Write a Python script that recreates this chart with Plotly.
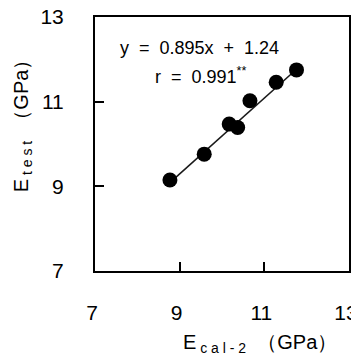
import plotly.graph_objects as go

# Data
e_cal2 = [8.77, 9.58, 10.17, 10.37, 10.66, 11.28, 11.76]
e_test = [9.15, 9.76, 10.47, 10.39, 11.02, 11.46, 11.75]
slope = 0.895
intercept = 1.24
r_value = 0.991
tick_vals = [7, 9, 11, 13]
tick_text = ["7", "9", "11", "13"]

FONT = "Liberation Sans, Arial, sans-serif"

x_line = [min(e_cal2), max(e_cal2)]
y_line = [slope * v + intercept for v in x_line]

fig = go.Figure()
fig.add_trace(go.Scatter(x=x_line, y=y_line, mode="lines",
                         line=dict(color="#1a1a1a", width=1.6),
                         hoverinfo="skip", showlegend=False))
fig.add_trace(go.Scatter(x=e_cal2, y=e_test, mode="markers",
                         marker=dict(color="black", size=15),
                         showlegend=False))

axis_common = dict(
    range=[7, 13], tickvals=tick_vals, ticktext=tick_text,
    showgrid=False, zeroline=False, automargin=False,
    ticklabeloverflow="allow",
    showline=True, linecolor="black", linewidth=2, mirror=True,
    ticks="inside", ticklen=9, tickwidth=2, tickcolor="black",
    tickfont=dict(family=FONT, size=21, color="black"),
)
fig.update_xaxes(**axis_common, ticklabelstandoff=22, ticklabelshift=-3)
fig.update_yaxes(**axis_common, ticklabelstandoff=25)

ann = dict(xref="paper", yref="paper", showarrow=False,
           xanchor="center", yanchor="middle")
fig.add_annotation(**ann, x=0.411, y=0.876,
                   text="y  =  0.895x  +  1.24",
                   font=dict(family=FONT, size=18, color="black"))
fig.add_annotation(**ann, x=0.415, y=0.77,
                   text=f"r  =  {r_value:.3f}<sup>**</sup>",
                   font=dict(family=FONT, size=18, color="black"))
fig.add_annotation(**ann, x=0.65, y=-0.287,
                   text="E<sub> c a l - 2</sub>  （GPa）",
                   font=dict(family=FONT, size=20, color="black"))
fig.add_annotation(**ann, x=-0.287, y=0.59,
                   text="E<sub> t e s t</sub>  （GPa）", textangle=-90,
                   font=dict(family=FONT, size=20, color="black"))

# page body has an 8px default margin; compensate so the plot sits where it should
fig.update_layout(
    width=351, height=348,
    margin=dict(l=87, r=10, t=9, b=85),
    plot_bgcolor="white", paper_bgcolor="white",
)

fig.write_html("out.html")
